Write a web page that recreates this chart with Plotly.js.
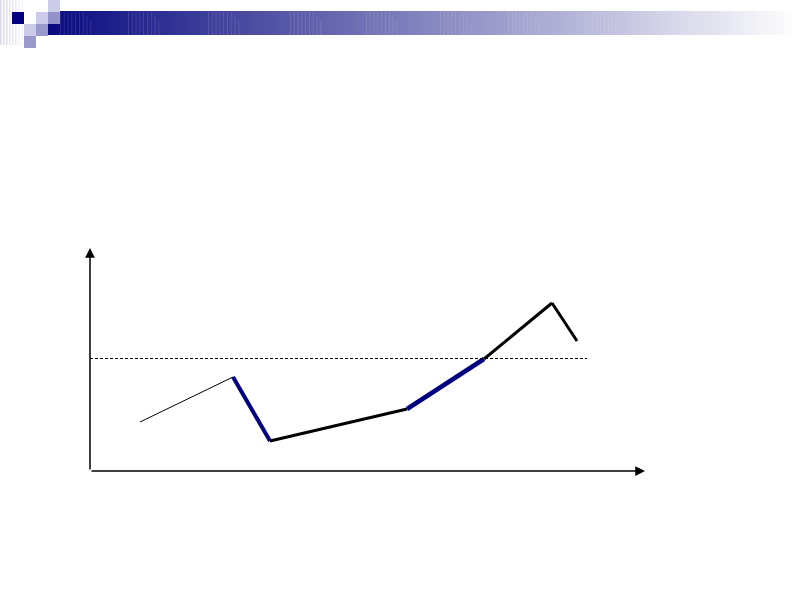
<!DOCTYPE html>
<html>
<head>
<meta charset="utf-8">
<script src="https://cdn.plot.ly/plotly-3.0.1.min.js"></script>
<style>html,body{margin:0;padding:0;background:#fff;}#chart{width:792px;height:594px;}</style>
</head>
<body>
<div id="chart"></div>
<script>
// ---- data ----
var pointX = [5.0, 14.3, 18.0, 31.7, 39.4, 46.2, 48.7];
var pointY = [4.9, 9.4, 3.0, 6.2, 11.2, 16.8, 13.0];
var refLevel = 11.25;
var refEndX = 49.7;
var xMax = 55.5;
var yMax = 22.3;

// ---- styles ----
var NAVY = '#000080';
var segColors = ['#000000', NAVY, '#000000', NAVY, '#000000', '#000000'];
var segWidths = [1, 4, 3, 4.5, 3, 3, 2.5];

var W = 792, H = 594;
var M = {l: 90, r: 147, t: 248, b: 123};
var PW = W - M.l - M.r, PH = H - M.t - M.b;
function px(x) { return (x - M.l) / PW; }
function py(y) { return 1 - (y - M.t) / PH; }
function rectPx(x0, y0, x1, y1, color, opacity) {
  return {type: 'rect', xref: 'paper', yref: 'paper', layer: 'above',
    x0: px(x0), x1: px(x1), y0: py(y1), y1: py(y0),
    fillcolor: color, opacity: opacity === undefined ? 1 : opacity, line: {width: 0}};
}

var traces = [];
for (var i = 0; i < pointX.length - 1; i++) {
  traces.push({
    x: [pointX[i], pointX[i + 1]], y: [pointY[i], pointY[i + 1]],
    type: 'scatter', mode: 'lines', hoverinfo: 'skip', showlegend: false,
    line: {color: segColors[i] || '#000', width: segWidths[i]}
  });
}
// dashed reference line
traces.push({x: [0, refEndX], y: [refLevel, refLevel], type: 'scatter', mode: 'lines',
  showlegend: false, hoverinfo: 'skip', line: {color: '#000', width: 1, dash: '3px,2px'}});

// ---- header decoration ----
var shapes = [];
var gx0 = 48, gx1 = 792, steps = 186;
for (var s = 0; s < steps; s++) {
  var f = s / (steps - 1);
  var r = Math.round(10 + (252 - 10) * f), b = Math.round(128 + (253 - 128) * f);
  var c = 'rgb(' + r + ',' + r + ',' + b + ')';
  var a = gx0 + (gx1 - gx0) * s / steps, e = gx0 + (gx1 - gx0) * (s + 1) / steps + 0.6;
  shapes.push(rectPx(a, 11, e, 35, c));
}
var clusters = [60, 128, 208, 290, 366, 440, 508, 585, 662, 735];
clusters.forEach(function (cx) {
  for (var k = 0; k < 9; k++) {
    var lx = cx + k * 3.8;
    var top = (k > 6) ? 11 + (k - 6) * 5 : 12;
    shapes.push(rectPx(lx, top, lx + 0.8, 35, '#ffffff', 0.15));
  }
});
// left faint stripes
for (var k2 = 0; k2 < 8; k2++) {
  shapes.push(rectPx(k2 * 3, 0, k2 * 3 + 1.6, 45, '#c8c8e4', 0.7 - k2 * 0.08));
}
// squares
shapes.push(rectPx(12, 12, 24, 24, NAVY));
shapes.push(rectPx(24, 12, 36, 24, '#ffffff'));
shapes.push(rectPx(36, 12, 48, 24, '#ccccea'));
shapes.push(rectPx(48, 0, 60, 12, '#ccccea'));
shapes.push(rectPx(48, 12, 60, 24, '#9393c9'));
shapes.push(rectPx(24, 24, 36, 36, '#ccccea'));
shapes.push(rectPx(36, 24, 48, 36, '#9999cc'));
shapes.push(rectPx(24, 36, 36, 48, '#9999cc'));

var annotations = [
  {x: xMax, y: 0, ax: 0, ay: 0, xref: 'x', yref: 'y', axref: 'x', ayref: 'y', text: '',
   showarrow: true, arrowhead: 2, arrowsize: 1.3, arrowwidth: 1.5, arrowcolor: '#000'},
  {x: 0, y: yMax, ax: 0, ay: 0, xref: 'x', yref: 'y', axref: 'x', ayref: 'y', text: '',
   showarrow: true, arrowhead: 2, arrowsize: 1.3, arrowwidth: 1.5, arrowcolor: '#000'}
];

var layout = {
  width: W, height: H, margin: M,
  paper_bgcolor: '#fff', plot_bgcolor: 'rgba(0,0,0,0)',
  xaxis: {range: [0, xMax], showgrid: false, zeroline: false, showticklabels: false, showline: false, ticks: ''},
  yaxis: {range: [0, yMax], showgrid: false, zeroline: false, showticklabels: false, showline: false, ticks: ''},
  shapes: shapes, annotations: annotations, showlegend: false
};
Plotly.newPlot('chart', traces, layout, {displayModeBar: false, staticPlot: true});
</script>
</body>
</html>
